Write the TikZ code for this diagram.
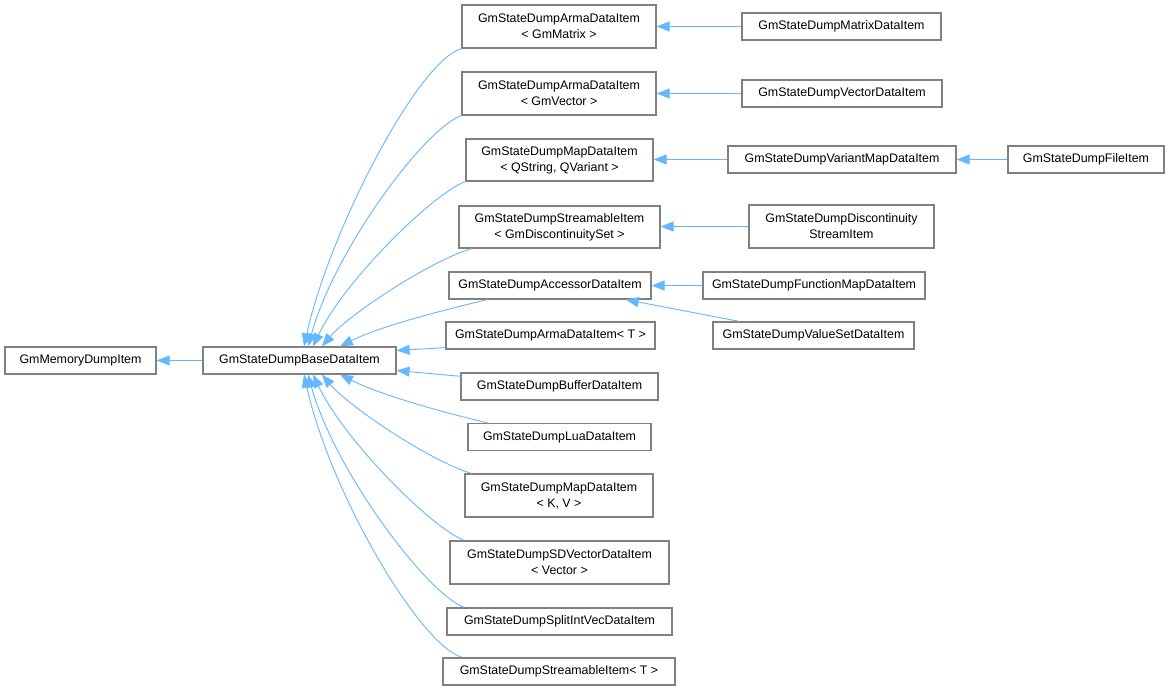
\documentclass[tikz,border=0pt]{standalone}
\usepackage{fontspec}
\setmainfont{Liberation Sans}
\usetikzlibrary{arrows.meta,calc}
\definecolor{edgeblue}{HTML}{63B8FF}
\definecolor{boxgray}{HTML}{808080}
\begin{document}
\begin{tikzpicture}[x=1pt,y=-1pt,
  cls/.style={draw=boxgray, line width=1.2pt, fill=white, inner sep=0pt, align=center,
              font=\fontsize{12.4}{16}\selectfont},
  edge/.style={draw=edgeblue, line width=0.9pt, -{Triangle[length=13pt,width=10pt]}}]
\useasboundingbox[fill=white] (0,0) rectangle (1169,691);

% nodes
\node[cls, minimum width=151pt, minimum height=27pt] (mem) at (80.5,360.5) {GmMemoryDumpItem};
\node[cls, minimum width=193pt, minimum height=27pt] (base) at (299.5,360.5) {GmStateDumpBaseDataItem};
\node[cls, minimum width=194pt, minimum height=43pt] (armaM) at (559,26.5) {GmStateDumpArmaDataItem\\{< GmMatrix >}};
\node[cls, minimum width=194pt, minimum height=43pt] (armaV) at (559,93.5) {GmStateDumpArmaDataItem\\{< GmVector >}};
\node[cls, minimum width=187pt, minimum height=42pt] (mapQ) at (559.5,160) {GmStateDumpMapDataItem\\{< QString, QVariant >}};
\node[cls, minimum width=201pt, minimum height=42pt] (streamD) at (559.5,227) {GmStateDumpStreamableItem\\{< GmDiscontinuitySet >}};
\node[cls, minimum width=202pt, minimum height=27pt] (accessor) at (550,285.5) {GmStateDumpAccessorDataItem};
\node[cls, minimum width=209pt, minimum height=27pt] (armaT) at (550.5,335.5) {GmStateDumpArmaDataItem< T >};
\node[cls, minimum width=197pt, minimum height=27pt] (buffer) at (559.5,386.5) {GmStateDumpBufferDataItem};
\node[cls, minimum width=183pt, minimum height=27pt] (lua) at (559.5,437) {GmStateDumpLuaDataItem};
\node[cls, minimum width=188pt, minimum height=43pt] (mapKV) at (559,495.5) {GmStateDumpMapDataItem\\{< K, V >}};
\node[cls, minimum width=219pt, minimum height=43pt] (sdvec) at (559.5,562.5) {GmStateDumpSDVectorDataItem\\{< Vector >}};
\node[cls, minimum width=225pt, minimum height=27pt] (split) at (559.5,621.5) {GmStateDumpSplitIntVecDataItem};
\node[cls, minimum width=232pt, minimum height=27pt] (streamT) at (559,671.5) {GmStateDumpStreamableItem< T >};
\node[cls, minimum width=199pt, minimum height=27pt] (matrix) at (841.5,26.5) {GmStateDumpMatrixDataItem};
\node[cls, minimum width=200pt, minimum height=27pt] (vector) at (842,93.5) {GmStateDumpVectorDataItem};
\node[cls, minimum width=228pt, minimum height=27pt] (variant) at (842,159.5) {GmStateDumpVariantMapDataItem};
\node[cls, minimum width=156pt, minimum height=27pt] (file) at (1086,159.5) {GmStateDumpFileItem};
\node[cls, minimum width=185pt, minimum height=43pt] (disc) at (841.5,226.5) {GmStateDumpDiscontinuity\\StreamItem};
\node[cls, minimum width=222pt, minimum height=27pt] (funcmap) at (814,285.5) {GmStateDumpFunctionMapDataItem};
\node[cls, minimum width=201pt, minimum height=27pt] (valueset) at (813.5,335.5) {GmStateDumpValueSetDataItem};

% straight edges
\draw[edge] (base.west) -- (mem.east);
\draw[edge] (matrix.west) -- (armaM.east);
\draw[edge] (vector.west) -- (armaV.east);
\draw[edge] (variant.west) -- (variant.west -| mapQ.east);
\draw[edge] (file.west) -- (variant.east);
\draw[edge] (disc.west) -- (disc.west -| streamD.east);
\draw[edge] (funcmap.west) -- (accessor.east);
\draw[edge] ($(valueset.north west)+(27,0)$) -- ($(accessor.south east)+(-26,0)$);

% edges into base from above
\draw[edge] (armaM.south west) .. controls +(-43,12) and +(26,-117) .. ($(base.north)+(4.5,0)$);
\draw[edge] (armaV.south west) .. controls +(-37,13) and +(27,-97) .. ($(base.north)+(8.5,0)$);
\draw[edge] (mapQ.south west) .. controls +(-31,11) and +(32,-67) .. ($(base.north)+(13.5,0)$);
\draw[edge] ($(streamD.south west)+(13,0)$) .. controls +(-45,14) and +(25,-30) .. ($(base.north)+(22.5,0)$);
\draw[edge] ($(accessor.south west)+(39,0)$) .. controls +(-50,12) and +(40,-20) .. ($(base.north)+(40.5,0)$);

% edges into base from the side
\draw[edge] ($(armaT.south west)+(0,-2)$) -- ($(base.east)+(0,-10)$);
\draw[edge] ($(buffer.north west)+(1,4)$) -- ($(base.east)+(0,10)$);

% edges into base from below
\draw[edge] ($(lua.north west)+(20,0)$) .. controls +(-50,-12) and +(40,20) .. ($(base.south)+(40.5,0)$);
\draw[edge] ($(mapKV.north west)+(7,0)$) .. controls +(-45,-14) and +(25,30) .. ($(base.south)+(22.5,0)$);
\draw[edge] ($(sdvec.north west)+(15,0)$) .. controls +(-31,-11) and +(32,67) .. ($(base.south)+(13.5,0)$);
\draw[edge] ($(split.north west)+(18,0)$) .. controls +(-37,-13) and +(27,97) .. ($(base.south)+(8.5,0)$);
\draw[edge] ($(streamT.north west)+(20,0)$) .. controls +(-43,-12) and +(26,117) .. ($(base.south)+(4.5,0)$);
\end{tikzpicture}
\end{document}
